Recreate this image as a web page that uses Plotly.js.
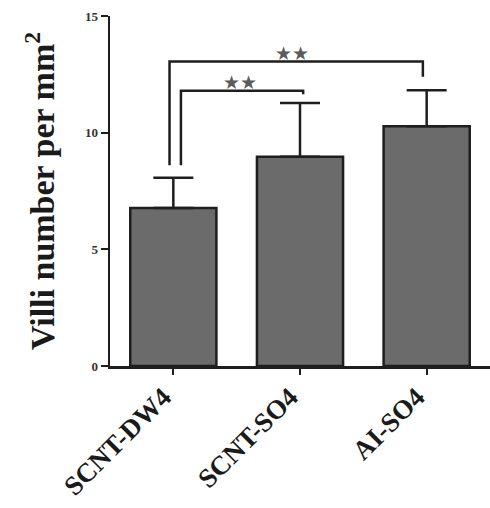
<!DOCTYPE html>
<html>
<head>
<meta charset="utf-8">
<script src="https://cdn.plot.ly/plotly-3.0.1.min.js"></script>
<style>html,body{margin:0;padding:0;background:#fff;}#chart{width:490px;height:508px;}</style>
</head>
<body>
<div id="chart"></div>
<script>
var categories = ["SCNT-DW4", "SCNT-SO4", "AI-SO4"];
var means = [6.77, 8.97, 10.27];
var errUpper = [1.3, 2.3, 1.55];
var yTicks = [0, 5, 10, 15];
// significance brackets
var bracketFrom = [0, 0];
var bracketTo = [2, 1];
var bracketLevel = [13.05, 11.8];
var bracketLeftBottom = [8.6, 8.6];
var bracketRightBottom = [12.4, 11.65];
var bracketLabel = ["★★", "★★"];

var serif = "Liberation Serif, Times New Roman, serif";
var lineCol = "#1e1e1e";

var trace = {
  type: "bar",
  x: categories,
  y: means,
  width: 0.68,
  marker: {color: "#6b6b6b", line: {color: lineCol, width: 2.5}},
  error_y: {type: "data", symmetric: false, array: errUpper, arrayminus: [0,0,0],
            color: lineCol, thickness: 2.5, width: 20},
  hoverinfo: "none"
};

var shapes = [];
var annotations = [];
var leftOff = [-0.03, 0.06];
var rightOff = [-0.03, 0.025];
for (var i = 0; i < bracketFrom.length; i++) {
  var x0 = bracketFrom[i] + leftOff[i];
  var x1 = bracketTo[i] + rightOff[i];
  var yl = bracketLevel[i];
  shapes.push({type: "path", xref: "x", yref: "y",
    path: "M " + x0 + "," + bracketLeftBottom[i] + " L " + x0 + "," + yl + " L " + x1 + "," + yl + " L " + x1 + "," + bracketRightBottom[i],
    line: {color: lineCol, width: 2.5}});
  annotations.push({xref: "x", yref: "y", x: (x0 + x1) / 2 + (i === 0 ? -0.03 : -0.02), y: yl, yanchor: "bottom", yshift: -4,
    text: bracketLabel[i], showarrow: false,
    font: {family: "DejaVu Sans", size: 19, color: "#5c5c5c"}});
}

var layout = {
  width: 490, height: 508,
  margin: {l: 110, r: 0, t: 16, b: 142},
  paper_bgcolor: "#fff", plot_bgcolor: "#fff",
  showlegend: false,
  xaxis: {
    type: "category", range: [-0.5, 2.5],
    showline: true, linecolor: lineCol, linewidth: 2.5,
    ticks: "outside", ticklen: 6, tickwidth: 2, tickcolor: lineCol,
    tickangle: -45, showgrid: false, zeroline: false,
    ticklabelshift: -10, ticklabelstandoff: -4,
    tickfont: {family: serif, size: 27, color: "#1a1a1a", weight: 700}
  },
  yaxis: {
    range: [0, 15], tickvals: yTicks, ticktext: yTicks.map(String),
    showline: true, linecolor: lineCol, linewidth: 2.5,
    ticks: "outside", ticklen: 7, tickwidth: 2, tickcolor: lineCol,
    showgrid: false, zeroline: false,
    tickfont: {family: serif, size: 13, color: "#333", weight: 700},
    title: {text: "Villi number per mm<sup>2</sup>", standoff: 20,
            font: {family: serif, size: 34, color: "#1a1a1a", weight: 700}}
  },
  shapes: shapes,
  annotations: annotations
};

Plotly.newPlot("chart", [trace], layout, {displayModeBar: false, staticPlot: true});
</script>
</body>
</html>
